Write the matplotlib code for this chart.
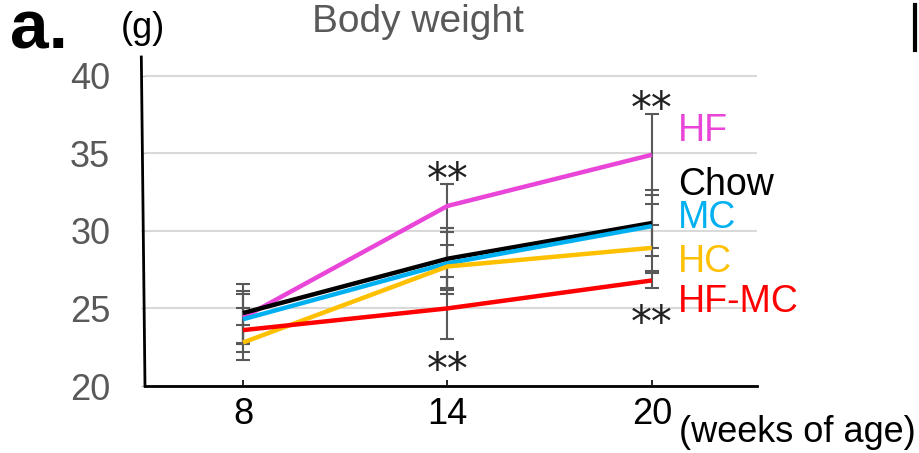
import matplotlib.pyplot as plt
from matplotlib.lines import Line2D

plt.rcParams['font.family'] = ['Liberation Sans', 'DejaVu Sans']

# weeks of age
weeks = [8, 14, 20]

# mean body weight (g) per group
groups = ['HF', 'Chow', 'MC', 'HC', 'HF-MC']
means = {
    'HF':    [24.4, 31.6, 34.9],
    'Chow':  [24.7, 28.2, 30.5],
    'MC':    [24.3, 27.9, 30.3],
    'HC':    [22.8, 27.7, 28.9],
    'HF-MC': [23.6, 25.0, 26.8],
}
errs = {
    'HF':    [1.7, 1.4, 2.6],
    'Chow':  [1.9, 2.0, 2.1],
    'MC':    [1.6, 2.0, 1.4],
    'HC':    [1.1, 1.4, 1.5],
    'HF-MC': [1.4, 2.0, 0.5],
}
colors = {'HF': '#e945d9', 'Chow': '#000000', 'MC': '#00b0f0',
          'HC': '#ffc000', 'HF-MC': '#ff0000'}
label_y = {'HF': 36.45, 'Chow': 32.97, 'MC': 30.84, 'HC': 28.0, 'HF-MC': 25.42}

# significance marks: (week, y position)
stars = [(14, 33.2), (20, 37.8), (14, 20.95), (20, 24.0)]

fig = plt.figure(figsize=(9.2, 4.53), dpi=100)
ax = fig.add_axes([0.1576, 0.1479, 0.665, 0.7263])

for g in groups:
    ax.errorbar(weeks, means[g], yerr=errs[g], fmt='none', ecolor='#595959',
                elinewidth=1.5, capsize=5, capthick=1.5, zorder=2)
for g in groups:
    ax.plot(weeks, means[g], color=colors[g], lw=3.2, zorder=3,
            solid_capstyle='butt')
    ax.text(20.76, label_y[g], g, color=colors[g], fontsize=27,
            va='center', ha='left', clip_on=False)

for wk, y in stars:
    ax.text(wk, y, '**', fontsize=30, ha='center', va='center',
            family=['DejaVu Sans'], color='#222222', clip_on=False)

ax.set_xlim(5.124, 23.08)
ax.set_ylim(20, 41.2)
ax.set_xticks(weeks)
ax.set_yticks([20, 25, 30, 35, 40])
ax.tick_params(axis='x', direction='in', length=4, width=1.2, pad=8,
               labelsize=26, labelcolor='black')
ax.tick_params(axis='y', length=3, width=1, color='#bfbfbf', pad=22,
               labelsize=26, labelcolor='#595959')
ax.grid(axis='y', color='#d9d9d9', lw=1.5)
ax.set_axisbelow(True)

for s in ['top', 'right', 'left']:
    ax.spines[s].set_visible(False)
ax.spines['bottom'].set_linewidth(2)
# slightly slanted y axis line
ax.add_line(Line2D([-0.006, 0.0], [1.0, 0.0], transform=ax.transAxes,
                   color='black', lw=2, clip_on=False))

fig.text(0.454, 0.951, 'Body weight', fontsize=28, color='#595959',
         ha='center', va='center')
fig.text(0.155, 0.938, '(g)', fontsize=26, ha='center', va='center')
fig.text(0.011, 0.893, 'a.', fontsize=50, fontweight='bold', ha='left',
         va='baseline')
fig.text(0.738, 0.046, '(weeks of age)', fontsize=26, ha='left', va='center')
fig.add_artist(Line2D([0.9946, 0.9946], [0.89, 0.99], color='black', lw=3))

fig.savefig('out.png', dpi=100)
